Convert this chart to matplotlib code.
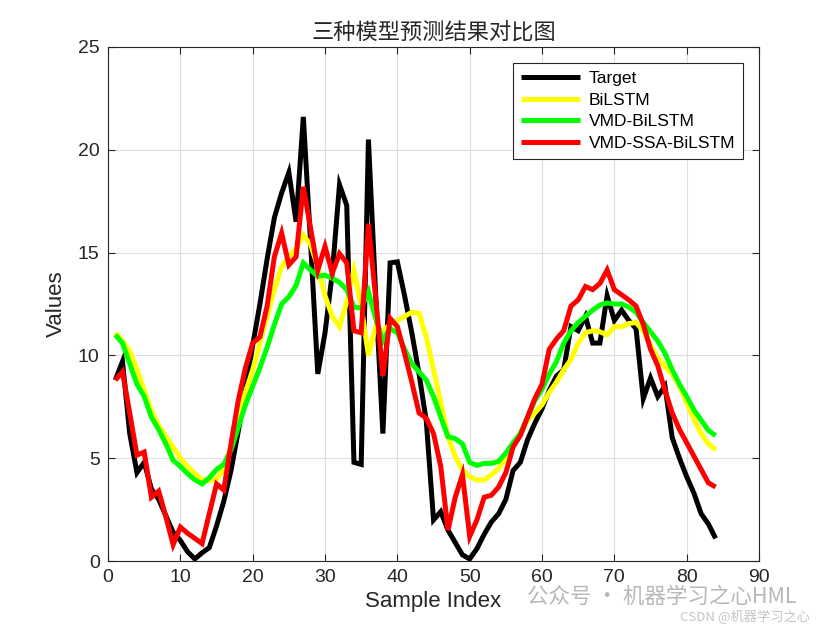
import matplotlib
matplotlib.use("Agg")
import matplotlib.pyplot as plt
import numpy as np

# ---- data ----
sample_index = list(range(1, 85))

target = [8.8, 9.7, 6.2, 4.3, 4.8, 3.5, 3.0, 2.2, 1.4, 1.0,
          0.45, 0.1, 0.4, 0.65, 1.7, 2.9, 4.4, 6.3, 8.3, 10.5,
          12.5, 14.7, 16.7, 17.9, 18.9, 16.5, 21.6, 15.5, 9.1, 11.1,
          14.0, 18.3, 17.3, 4.8, 4.7, 20.5, 13.0, 6.2, 14.5, 14.55,
          12.9, 11.1, 9.1, 6.8, 2.0, 2.4, 1.5, 0.9, 0.3, 0.1,
          0.6, 1.3, 1.9, 2.3, 3.0, 4.4, 4.8, 5.9, 6.7, 7.4,
          8.3, 9.0, 9.3, 11.4, 11.2, 11.9, 10.6, 10.6, 12.9, 11.7,
          12.2, 11.7, 11.3, 7.9, 8.9, 8.0, 8.5, 6.0, 5.0, 4.1,
          3.3, 2.3, 1.8, 1.1]

bilstm = [11.1, 10.7, 10.2, 9.3, 8.3, 7.3, 6.6, 6.05, 5.55, 5.0,
          4.6, 4.25, 3.95, 3.9, 4.0, 4.45, 5.6, 7.0, 8.2, 9.3,
          10.6, 11.9, 13.2, 14.3, 14.8, 15.2, 15.85, 15.4, 14.3, 12.9,
          11.9, 11.4, 12.6, 14.15, 12.4, 10.0, 11.4, 11.2, 11.5, 11.7,
          11.9, 12.1, 12.05, 10.9, 9.3, 7.7, 6.05, 5.07, 4.43, 4.1,
          3.94, 3.94, 4.2, 4.5, 5.0, 5.55, 6.2, 6.85, 7.2, 7.6,
          8.2, 8.7, 9.3, 9.8, 10.6, 11.1, 11.2, 11.15, 11.0, 11.4,
          11.4, 11.55, 11.6, 11.2, 10.5, 9.9, 9.45, 9.1, 8.5, 7.7,
          6.9, 6.2, 5.7, 5.4]

vmd_bilstm = [11.0, 10.6, 9.6, 8.6, 8.0, 7.0, 6.4, 5.7, 4.9, 4.6,
              4.25, 3.95, 3.75, 4.05, 4.45, 4.7, 5.4, 6.5, 7.6, 8.5,
              9.4, 10.4, 11.5, 12.5, 12.85, 13.4, 14.5, 14.15, 13.85, 13.9,
              13.75, 13.55, 13.2, 12.35, 12.3, 13.1, 11.8, 10.7, 11.3, 11.1,
              10.3, 9.6, 9.2, 8.8, 8.0, 7.0, 6.05, 5.95, 5.7, 4.8,
              4.65, 4.75, 4.75, 4.85, 5.25, 5.75, 6.2, 7.0, 7.8, 8.35,
              9.1, 9.7, 10.6, 11.2, 11.6, 11.9, 12.2, 12.45, 12.55, 12.5,
              12.5, 12.35, 12.1, 11.6, 11.15, 10.7, 10.1, 9.3, 8.6, 8.0,
              7.35, 6.85, 6.35, 6.1]

vmd_ssa_bilstm = [8.8, 9.2, 7.2, 5.15, 5.3, 3.1, 3.4, 2.15, 0.8, 1.65,
                  1.35, 1.1, 0.85, 2.3, 3.75, 3.45, 5.7, 7.8, 9.4, 10.6,
                  10.9, 12.4, 14.8, 15.95, 14.4, 14.8, 18.2, 16.2, 14.15, 15.3,
                  14.0, 14.95, 14.5, 11.2, 11.1, 16.4, 12.8, 9.0, 11.8, 11.4,
                  10.1, 8.7, 7.2, 6.95, 6.2, 4.6, 1.5, 3.1, 4.2, 1.2,
                  2.0, 3.1, 3.2, 3.6, 4.3, 5.55, 6.1, 7.0, 7.9, 8.6,
                  10.3, 10.8, 11.2, 12.4, 12.7, 13.35, 13.2, 13.5, 14.15, 13.2,
                  12.95, 12.7, 12.4, 11.5, 10.3, 9.5, 8.3, 7.2, 6.4, 5.75,
                  5.1, 4.45, 3.8, 3.6]

series_names = ["Target", "BiLSTM", "VMD-BiLSTM", "VMD-SSA-BiLSTM"]
series_colors = ["#000000", "#ffff00", "#00ff00", "#ff0000"]
x_ticks = [0, 10, 20, 30, 40, 50, 60, 70, 80, 90]
y_ticks = [0, 5, 10, 15, 20, 25]
title_text = "三种模型预测结果对比图"
x_label = "Sample Index"
y_label = "Values"

# ---- figure ----
plt.rcParams['font.family'] = ['Liberation Sans', 'Noto Sans CJK SC', 'DejaVu Sans']
fig = plt.figure(figsize=(8.4, 6.3), dpi=100)
ax = fig.add_axes([0.1286, 0.1095, 0.7750, 0.8159])

for vals, name, col in zip([target, bilstm, vmd_bilstm, vmd_ssa_bilstm],
                           series_names, series_colors):
    ax.plot(sample_index, vals, color=col, linewidth=3.6, label=name,
            solid_joinstyle='miter', solid_capstyle='butt')

ax.set_xlim(0, 90)
ax.set_ylim(0, 25)
ax.set_xticks(x_ticks)
ax.set_yticks(y_ticks)
ax.tick_params(direction='in', length=5, width=0.8, top=True, right=True,
               labelsize=14, colors='#262626', pad=6)
ax.grid(True, color='#dedede', linewidth=0.8)
ax.set_axisbelow(True)
for sp in ax.spines.values():
    sp.set_color('#262626')
    sp.set_linewidth(0.8)

ax.set_xlabel(x_label, fontsize=16, color='#262626', labelpad=3)
ax.set_ylabel(y_label, fontsize=16, color='#262626', labelpad=8)
ax.set_title(title_text, fontsize=16, color='#262626',
             family=['Noto Sans CJK SC', 'DejaVu Sans'], pad=5)

leg = ax.legend(loc='upper right', bbox_to_anchor=(0.9754, 0.969),
                borderaxespad=0, fontsize=12.5, handlelength=3.4,
                fancybox=False, framealpha=1, edgecolor='#262626',
                labelspacing=0.38, handletextpad=0.5, borderpad=0.45)
leg.get_frame().set_linewidth(0.8)

# watermark text as in the reference
fig.text(0.627, 0.053, "公众号 · 机器学习之心HML", fontsize=15.5, color='#b8b8b8',
         family=['Noto Sans CJK SC', 'DejaVu Sans'], va='center', ha='left')
fig.text(0.810, 0.020, "CSDN @机器学习之心", fontsize=9.5, color='#c4c4c4',
         family=['Noto Sans CJK SC', 'DejaVu Sans'], va='center', ha='left')

fig.savefig("out.png", dpi=100)
